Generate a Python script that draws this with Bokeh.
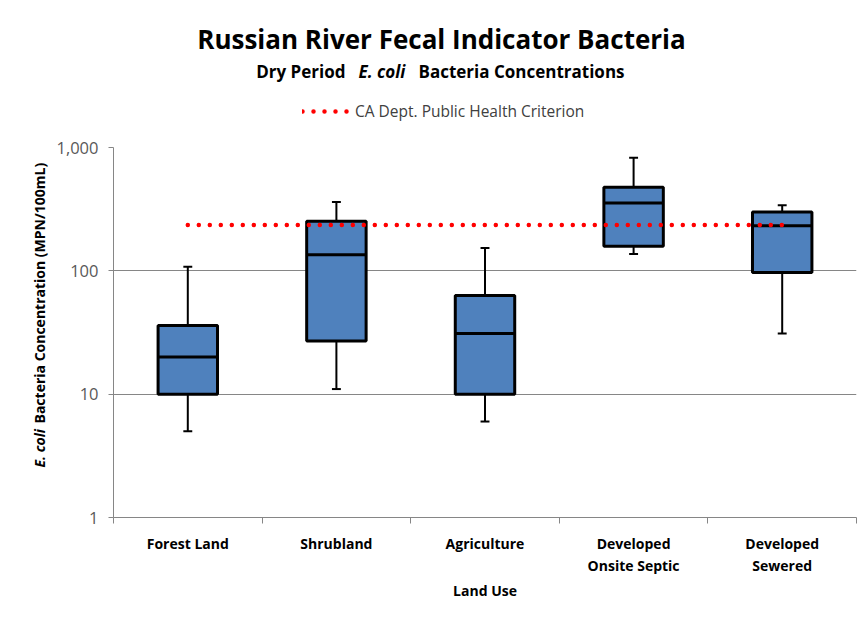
import math
from bokeh.plotting import figure
from bokeh.layouts import column, row
from bokeh.models import (ColumnDataSource, FixedTicker, Range1d, Legend,
                          LegendItem, NumeralTickFormatter)
from bokeh.core.properties import value
from bokeh.embed import file_html
from bokeh.resources import INLINE

# ---------------- data ----------------
categories = ["Forest Land", "Shrubland", "Agriculture",
              "Developed\nOnsite Septic", "Developed\nSewered"]
whisker_low = [5, 11, 6, 137, 31]
q1 = [10, 27, 10, 158, 97]
median = [20, 135, 31, 355, 232]
q3 = [36, 252, 63, 475, 300]
whisker_high = [108, 362, 153, 824, 340]
criterion = 235
y_ticks = [1, 10, 100, 1000]

title_text = "Russian River Fecal Indicator Bacteria"
legend_text = "CA Dept. Public Health Criterion"
x_title = "Land Use"

FONT = "Open Sans"
GRAY = "#868686"
RED = "#FF0000"

TOTAL_W, TOTAL_H = 867, 622
HEAD_H = 137
LEFT_W = 50
MAIN_W, MAIN_H = TOTAL_W - LEFT_W, TOTAL_H - HEAD_H
BORDER_TOP, BORDER_BOTTOM = 10, 105
FRAME_H = MAIN_H - BORDER_TOP - BORDER_BOTTOM

# ---------------- main plot ----------------
n = len(categories)
xs = [i + 0.5 for i in range(n)]
BOX_W = 0.4
CAP = 0.03

src = ColumnDataSource(dict(
    x=xs,
    lo=whisker_low, q1=q1, med=median, q3=q3, hi=whisker_high,
    xl=[x - BOX_W / 2 for x in xs], xr=[x + BOX_W / 2 for x in xs],
    cl=[x - CAP for x in xs], cr=[x + CAP for x in xs],
))

p = figure(width=MAIN_W, height=MAIN_H, y_axis_type="log",
           x_range=Range1d(0, n), y_range=Range1d(1, 1000),
           output_backend="svg", toolbar_location=None, title_location=None,
           min_border_left=63, min_border_right=11,
           min_border_top=BORDER_TOP, min_border_bottom=BORDER_BOTTOM)
p.outline_line_color = None

# x axis
xa = p.xaxis[0]
xa.ticker = FixedTicker(ticks=xs, minor_ticks=list(range(n + 1)))
xa.major_label_overrides = {float(x): c for x, c in zip(xs, categories)}
xa.major_tick_line_color = None
xa.major_tick_out = 0
xa.major_tick_in = 0
xa.minor_tick_out = 6
xa.minor_tick_in = 0
xa.minor_tick_line_color = GRAY
xa.axis_line_color = GRAY
xa.major_label_text_font = FONT
xa.major_label_text_font_style = "bold"
xa.major_label_text_font_size = "14px"
xa.major_label_text_color = "#000000"
xa.major_label_standoff = 10
xa.axis_label = x_title
xa.axis_label_text_font = FONT
xa.axis_label_text_font_style = "bold"
xa.axis_label_text_font_size = "14px"
xa.axis_label_text_color = "#000000"
xa.axis_label_standoff = 3
p.xgrid.grid_line_color = None

# y axis
ya = p.yaxis[0]
ya.ticker = FixedTicker(ticks=y_ticks, minor_ticks=[])
ya.formatter = NumeralTickFormatter(format="0,0")
ya.major_tick_out = 5
ya.major_tick_in = 0
ya.minor_tick_line_color = None
ya.major_tick_line_color = GRAY
ya.axis_line_color = GRAY
ya.major_label_text_font = FONT
ya.major_label_text_font_size = "16.5px"
ya.major_label_text_color = "#595959"
ya.major_label_standoff = 10
p.ygrid.ticker = FixedTicker(ticks=y_ticks, minor_ticks=[])
p.ygrid.grid_line_color = GRAY
p.ygrid.grid_line_width = 1

# boxes
p.segment(x0="x", y0="q3", x1="x", y1="hi", source=src, line_color="black", line_width=2)
p.segment(x0="x", y0="lo", x1="x", y1="q1", source=src, line_color="black", line_width=2)
p.segment(x0="cl", y0="hi", x1="cr", y1="hi", source=src, line_color="black", line_width=2)
p.segment(x0="cl", y0="lo", x1="cr", y1="lo", source=src, line_color="black", line_width=2)
p.vbar(x="x", width=BOX_W, bottom="q1", top="q3", source=src,
       fill_color="#4F81BD", line_color="black", line_width=3)
p.segment(x0="xl", y0="med", x1="xr", y1="med", source=src, line_color="black", line_width=3)

# criterion line
crit_style = dict(line_color=RED, line_width=4.5, line_dash="0 11", line_cap="round")
p.line(x=[xs[0], xs[-1]], y=[criterion, criterion], **crit_style)

# ---------------- header (titles + legend) ----------------
head = figure(width=TOTAL_W, height=HEAD_H, x_range=Range1d(0, TOTAL_W),
              y_range=Range1d(0, HEAD_H), output_backend="svg", toolbar_location=None,
              title_location=None, x_axis_location=None, y_axis_location=None, min_border=0)
head.outline_line_color = None
head.grid.visible = False


def htext(fig, x, y, t, size, style="bold", align="left", angle=0.0):
    fig.text(x=[x], y=[y], text=[t], text_font=value(FONT), text_font_size=size,
             text_font_style=style, text_align=align, text_baseline="middle",
             angle=angle, text_color="#000000")


htext(head, 441, 99, title_text, "26px", "bold", "center")
htext(head, 345, 66, "Dry Period", "17px", "bold", "right")
htext(head, 358, 66, "E. coli", "17px", "bold italic", "left")
htext(head, 418, 66, "Bacteria Concentrations", "17px", "bold", "left")

# legend swatch renderer: same criterion series (lies outside the header's view)
crit_ref = head.line(x=[xs[0], xs[-1]], y=[criterion, criterion], **crit_style)
legend = Legend(items=[LegendItem(label=legend_text, renderers=[crit_ref])],
                location=(302, 15), glyph_width=50, glyph_height=16, label_height=16,
                padding=0, margin=0, spacing=0, label_standoff=3,
                border_line_color=None, background_fill_alpha=0,
                label_text_font=FONT, label_text_font_size="15.5px",
                label_text_color="#404040")
head.add_layout(legend)

# ---------------- left strip (y axis title) ----------------
# its frame is aligned with the main plot's frame by the row layout
left = figure(width=LEFT_W, height=MAIN_H, x_range=Range1d(0, LEFT_W), y_range=Range1d(0, FRAME_H),
              output_backend="svg", toolbar_location=None, title_location=None,
              x_axis_location=None, y_axis_location=None,
              min_border_left=0, min_border_right=0,
              min_border_top=BORDER_TOP, min_border_bottom=BORDER_BOTTOM)
left.outline_line_color = None
left.grid.visible = False
htext(left, 39, 50, "E. coli", "14px", "bold italic", "left", math.pi / 2)
htext(left, 39, 94, "Bacteria Concentration (MPN/100mL)", "14px", "bold", "left", math.pi / 2)

layout = column(head, row(left, p))
open("out.html", "w").write(file_html(layout, INLINE))
